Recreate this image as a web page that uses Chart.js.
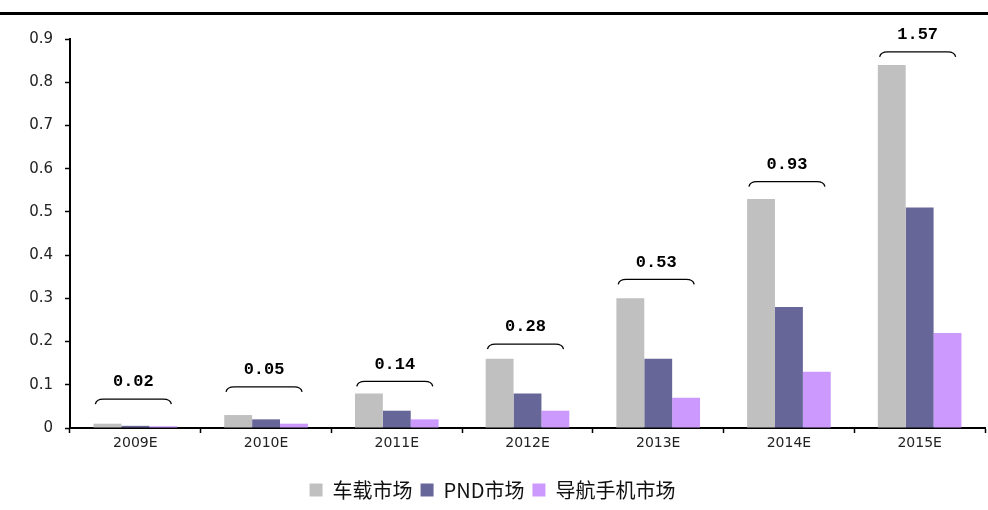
<!DOCTYPE html>
<html>
<head>
    <meta charset="UTF-8">
    <title>导航市场规模</title>
    <style>
        body { margin: 0; background: #fff; }
        .topline { position: absolute; left: 0; top: 12px; width: 988px; height: 3px; background: #000; }
        .chart-box { position: absolute; left: 0; top: 0; width: 988px; height: 510px; }
    </style>
</head>
<body>
    <div class="topline"></div>
    <div class="chart-box"><canvas id="chart" width="988" height="510"></canvas></div>
    <script src="https://cdn.jsdelivr.net/npm/chart.js"></script>
    <script>
        const years = ["2009E", "2010E", "2011E", "2012E", "2013E", "2014E", "2015E"];
        const carMarket = [0.01, 0.03, 0.08, 0.16, 0.30, 0.53, 0.84];
        const pndMarket = [0.005, 0.02, 0.04, 0.08, 0.16, 0.28, 0.51];
        const phoneMarket = [0.004, 0.01, 0.02, 0.04, 0.07, 0.13, 0.22];
        const totals = [0.02, 0.05, 0.14, 0.28, 0.53, 0.93, 1.57];
        // height of the bracket over each group, in axis units
        const bracketLevels = [0.067, 0.095, 0.108, 0.194, 0.344, 0.57, 0.87];

        const bracketPlugin = {
            id: "brackets",
            afterDatasetsDraw(chart) {
                const ctx = chart.ctx;
                const xs = chart.scales.x;
                const ys = chart.scales.y;
                ctx.save();
                ctx.strokeStyle = "#000";
                ctx.lineWidth = 1.3;
                ctx.fillStyle = "#000";
                ctx.font = "bold 17px 'Liberation Mono'";
                ctx.textAlign = "center";
                ctx.textBaseline = "middle";
                years.forEach((y, i) => {
                    const cx = xs.getPixelForValue(i) - 2;
                    const cy = ys.getPixelForValue(bracketLevels[i]);
                    const hw = 38;
                    ctx.beginPath();
                    ctx.moveTo(cx - hw, cy + 5);
                    ctx.quadraticCurveTo(cx - hw + 1, cy, cx - hw + 8, cy);
                    ctx.lineTo(cx + hw - 8, cy);
                    ctx.quadraticCurveTo(cx + hw - 1, cy, cx + hw, cy + 5);
                    ctx.stroke();
                    ctx.fillText(totals[i].toFixed(2), cx, cy - 17);
                });
                ctx.restore();
            }
        };

        new Chart(document.getElementById("chart"), {
            type: "bar",
            data: {
                labels: years,
                datasets: [
                    { label: "车载市场", data: carMarket, backgroundColor: "#c0c0c0" },
                    { label: "PND市场", data: pndMarket, backgroundColor: "#666699" },
                    { label: "导航手机市场", data: phoneMarket, backgroundColor: "#cc99ff" }
                ]
            },
            options: {
                responsive: false,
                animation: false,
                datasets: {
                    bar: { categoryPercentage: 0.64, barPercentage: 1.0 }
                },
                layout: { padding: { top: 39, right: 3, left: 0, bottom: 0 } },
                scales: {
                    x: {
                        afterFit(scale) { scale.height = 44; },
                        grid: { drawOnChartArea: false, color: "#000", tickLength: 5, tickWidth: 1.5 },
                        border: { color: "#000", width: 2 },
                        ticks: { color: "#222", font: { family: "'DejaVu Sans'", size: 14 }, padding: 2 }
                    },
                    y: {
                        min: 0,
                        max: 0.9,
                        afterFit(scale) { scale.width = 70; },
                        grid: { drawOnChartArea: false, color: "#000", tickLength: 5, tickWidth: 1.5 },
                        border: { color: "#000", width: 2 },
                        ticks: {
                            stepSize: 0.1,
                            color: "#222",
                            padding: 12,
                            font: { family: "'DejaVu Sans'", size: 15 },
                            callback: (v) => v === 0 ? "0" : v.toFixed(1)
                        }
                    }
                },
                plugins: {
                    tooltip: { enabled: false },
                    legend: {
                        position: "bottom",
                        labels: {
                            color: "#111",
                            boxWidth: 13,
                            boxHeight: 13,
                            padding: 8,
                            font: { family: "'Noto Sans CJK SC'", size: 20 }
                        }
                    }
                }
            },
            plugins: [bracketPlugin]
        });
    </script>
</body>
</html>
